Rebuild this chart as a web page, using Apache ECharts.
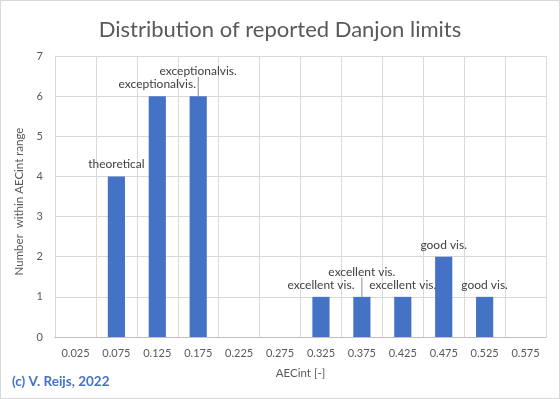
<!DOCTYPE html>
<html>
<head>
<meta charset="utf-8">
<script src="https://cdn.jsdelivr.net/npm/echarts@6/dist/echarts.min.js"></script>
<style>
  html, body { margin: 0; padding: 0; background: #fff; }
  #chart { width: 560px; height: 399px; box-sizing: border-box; border: 1px solid #d9d9d9; }
</style>
</head>
<body>
<div id="chart"></div>
<script>
// AECint bins and how many reports fall in each
const categories = ['0.025', '0.075', '0.125', '0.175', '0.225', '0.275',
                    '0.325', '0.375', '0.425', '0.475', '0.525', '0.575'];
const counts = [0, 4, 6, 6, 0, 0, 1, 1, 1, 2, 1, 0];
const labelNames = ['', 'theoretical', 'exceptionalvis.', 'exceptionalvis.', '', '',
                    'excellent vis.', 'excellent vis.', 'excellent vis.', 'good vis.', 'good vis.', ''];
// labels that were dragged up in the original
const raised = [3, 7];

const font = 'Lato, "Open Sans", sans-serif';
const chart = echarts.init(document.getElementById('chart'));

const option = {
    animation: false,
    title: {
        text: 'Distribution of reported Danjon limits',
        left: 'center',
        top: 13,
        textStyle: { fontFamily: font, fontSize: 22, fontWeight: 'normal', color: '#595959' }
    },
    grid: { left: 54, right: 13, top: 55, bottom: 61 },
    xAxis: {
        type: 'category',
        data: categories,
        name: 'AECint [-]',
        nameLocation: 'middle',
        nameGap: 30,
        nameTextStyle: { fontFamily: font, fontSize: 11.5, color: '#595959' },
        axisLine: { lineStyle: { color: '#bfbfbf' } },
        axisTick: { show: false },
        axisLabel: { fontFamily: font, fontSize: 11, color: '#595959', margin: 11 },
        splitLine: { show: true, lineStyle: { color: '#d9d9d9' } }
    },
    yAxis: {
        type: 'value',
        min: 0,
        max: 7,
        interval: 1,
        name: 'Number  within AECint range',
        nameLocation: 'middle',
        nameGap: 27,
        nameTextStyle: { fontFamily: font, fontSize: 11.5, color: '#595959', padding: [0, 0, 0, -10] },
        axisLine: { show: true, lineStyle: { color: '#d9d9d9' } },
        axisLabel: { fontFamily: font, fontSize: 11, color: '#595959', margin: 12 },
        splitLine: { lineStyle: { color: '#d9d9d9' } }
    },
    series: [{
        type: 'bar',
        barWidth: '42%',
        itemStyle: { color: '#4472c4' },
        data: counts.map((v, i) => ({
            value: v,
            label: { formatter: labelNames[i] },
            labelLine: { show: raised.indexOf(i) >= 0 }
        })),
        label: {
            show: true,
            position: 'top',
            distance: 6,
            fontFamily: font,
            fontSize: 12,
            color: '#404040'
        },
        labelLine: { show: false, lineStyle: { color: '#8c8c8c', width: 1 } },
        labelLayout: function (params) {
            if (raised.indexOf(params.dataIndex) >= 0) {
                return { dy: -13 };
            }
        }
    }],
    graphic: [{
        type: 'text',
        left: 11,
        top: 374,
        style: {
            text: '(c) V. Reijs, 2022',
            fontFamily: font,
            fontSize: 13.5,
            fontWeight: 'bold',
            fill: '#4472c4'
        }
    }]
};

chart.setOption(option);
</script>
</body>
</html>
